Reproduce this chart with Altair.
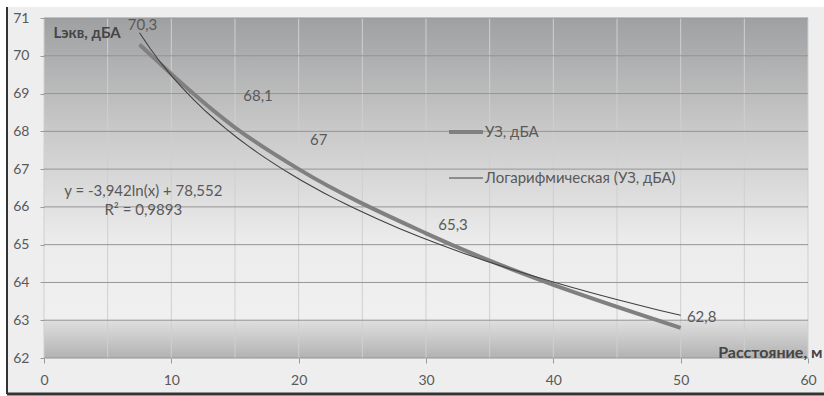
import altair as alt
import pandas as pd

# ---- data ----
DIST = [7.5, 15, 20, 30, 50]
LEVEL = [70.3, 68.1, 67, 65.3, 62.8]
SERIES = "УЗ, дБА"
TREND = "Логарифмическая (УЗ, дБА)"
EQUATION = ["y = -3,942ln(x) + 78,552", "R² = 0,9893"]
Y_TICKS = list(range(62, 72))
X_TICKS = list(range(0, 61, 10))
X_GRID = list(range(0, 61, 5))
X_TITLE = "Расстояние, м"
Y_TITLE = "Lэкв, дБА"

LABELS = [f"{v:g}".replace(".", ",") for v in LEVEL]

df = pd.DataFrame({"dist": DIST, "level": LEVEL, "series": SERIES,
                   "label": LABELS, "i": list(range(len(DIST)))})

FONT = "Lato"
TXT = "#595959"

xscale = alt.Scale(domain=[0, 60], nice=False, zero=False)
yscale = alt.Scale(domain=[62, 71], nice=False, zero=False)

xaxis = alt.Axis(values=X_TICKS, grid=False, domain=False, tickColor="#9a9a9a",
                 tickSize=5, labelPadding=10, title=X_TITLE, titleAlign="right",
                 titleBaseline="middle", titleX=778, titleY=-6, titleAngle=0,
                 titleFontSize=16, zindex=1, labelFlush=False)
yaxis = alt.Axis(values=Y_TICKS, grid=False, domain=False, tickColor="#9a9a9a",
                 tickSize=4, labelPadding=11, title=Y_TITLE, titleAngle=0,
                 titleAlign="left", titleBaseline="middle", titleX=9, titleY=14,
                 titleFontSize=15, zindex=1)

dom = [SERIES, TREND]
legend = alt.Legend(orient="none", legendX=403, legendY=95, title=None,
                    symbolType="stroke", symbolSize=1156, rowPadding=20,
                    labelOffset=0, labelFont=FONT, labelFontSize=15,
                    labelColor=TXT, labelLimit=0)
color_enc = alt.Color("series:N", scale=alt.Scale(domain=dom, range=["#808080", "#404040"]),
                      legend=legend)
sw_enc = alt.StrokeWidth("series:N", scale=alt.Scale(domain=dom, range=[4, 1.1]),
                         legend=legend)

one = pd.DataFrame({"k": [0]})

frame = alt.Chart(one).mark_rect(fill="#eeeeee").encode(
    x=alt.value(-37), x2=alt.value(780), y=alt.value(-11), y2=alt.value(375))
frame_left = alt.Chart(one).mark_rule(color="#333333", strokeWidth=2).encode(
    x=alt.value(-37), y=alt.value(-11), y2=alt.value(376))
frame_bottom = alt.Chart(one).mark_rule(color="#333333", strokeWidth=3).encode(
    x=alt.value(-37), x2=alt.value(780), y=alt.value(376))

grad = alt.LinearGradient(
    gradient="linear", x1=0, x2=0, y1=0, y2=1,
    stops=[alt.GradientStop(color="#9fa0a2", offset=0),
           alt.GradientStop(color="#c9c9c9", offset=0.33),
           alt.GradientStop(color="#ececec", offset=0.66),
           alt.GradientStop(color="#f0f0f0", offset=0.885),
           alt.GradientStop(color="#dedede", offset=0.892),
           alt.GradientStop(color="#b2b2b2", offset=1)])
plotbg = alt.Chart(one).mark_rect(color=grad).encode(
    x=alt.X(datum=0, scale=xscale, axis=xaxis), x2=alt.datum(60),
    y=alt.Y(datum=71, scale=yscale, axis=yaxis), y2=alt.datum(62))

hgrid = alt.Chart(pd.DataFrame({"v": Y_TICKS})).mark_rule(color="#959595", strokeWidth=1).encode(
    y=alt.Y("v:Q", scale=yscale, axis=yaxis))
vgrid = alt.Chart(pd.DataFrame({"v": X_GRID})).mark_rule(color="#cfcfcf", strokeWidth=1).encode(
    x=alt.X("v:Q", scale=xscale, axis=xaxis))

main = alt.Chart(df).mark_line(interpolate="monotone").encode(
    x=alt.X("dist:Q", scale=xscale, axis=xaxis),
    y=alt.Y("level:Q", scale=yscale, axis=yaxis),
    color=color_enc, strokeWidth=sw_enc)

trend = alt.Chart(df).transform_regression(
    "dist", "level", method="log", extent=[7.5, 50]
).transform_calculate(series=f"'{TREND}'").mark_line().encode(
    x=alt.X("dist:Q", scale=xscale, axis=xaxis),
    y=alt.Y("level:Q", scale=yscale, axis=yaxis),
    color=color_enc, strokeWidth=sw_enc)

OFFSETS = [(3, -19), (23, -32), (20, -29), (27, -8), (21, -11)]
label_layers = []
for i, (dx, dy) in enumerate(OFFSETS):
    label_layers.append(
        alt.Chart(df).transform_filter(f"datum.i == {i}").mark_text(
            dx=dx, dy=dy, font=FONT, fontSize=15, color=TXT,
            align="center", baseline="middle").encode(
            x=alt.X("dist:Q", scale=xscale, axis=xaxis),
            y=alt.Y("level:Q", scale=yscale, axis=yaxis),
            text="label:N"))

eq = alt.Chart(one).mark_text(
    font=FONT, fontSize=15, color=TXT, align="center", baseline="middle",
    lineBreak="\n", lineHeight=19).encode(
    x=alt.X(datum=7.8, scale=xscale, axis=xaxis),
    y=alt.Y(datum=66.41, scale=yscale, axis=yaxis),
    text=alt.value("\n".join(EQUATION)))

chart = alt.layer(frame, frame_left, frame_bottom, plotbg, vgrid, hgrid, main, trend,
                  *label_layers, eq).properties(
    width=764, height=340,
    autosize=alt.AutoSizeParams(type="none"),
    padding={"left": 44, "top": 18, "right": 16, "bottom": 38},
    background="white",
).configure_view(stroke=None).configure_axis(
    labelFont=FONT, labelFontSize=14, labelColor=TXT,
    titleFont=FONT, titleFontWeight="bold", titleColor="#454545")

chart.save("out.html", embed_options={"renderer": "svg", "actions": False})
